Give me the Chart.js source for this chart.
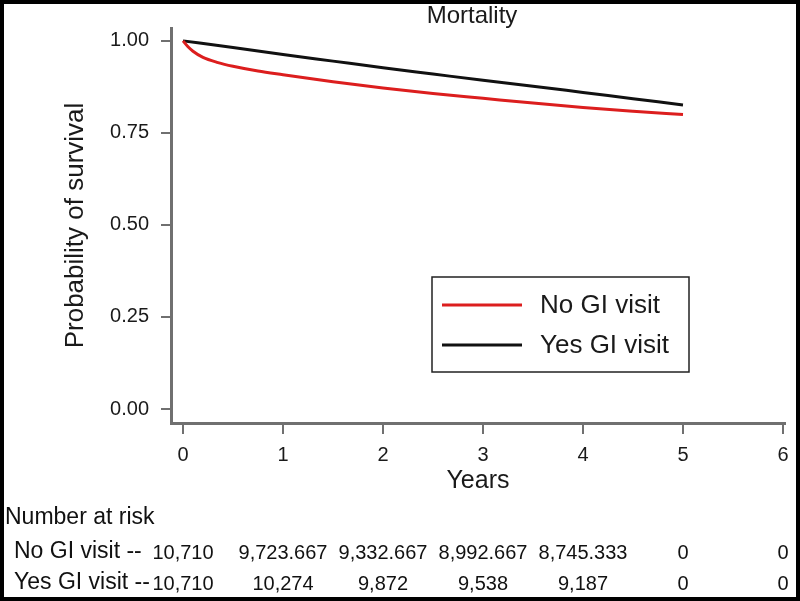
<!DOCTYPE html>
<html>
<head>
<meta charset="utf-8">
<script src="https://cdn.jsdelivr.net/npm/chart.js@4.4.1/dist/chart.umd.min.js"></script>
<style>
  html, body { margin: 0; padding: 0; background: #fff; }
  #wrap { width: 800px; height: 601px; position: relative; }
</style>
</head>
<body>
<div id="wrap"><canvas id="c" width="800" height="601"></canvas></div>
<script>
// ---- Data ----
const seriesLabels = ['No GI visit', 'Yes GI visit'];
const noGiYears = [0, 0.05, 0.1, 0.2, 0.35, 0.5, 0.75, 1, 1.5, 2, 2.5, 3, 3.5, 4, 4.5, 5];
const noGiSurv  = [1.0, 0.984, 0.972, 0.955, 0.941, 0.931, 0.918, 0.908, 0.889, 0.872, 0.857, 0.844, 0.831, 0.819, 0.809, 0.800];
const yesGiYears = [0, 0.5, 1, 1.5, 2, 2.5, 3, 3.5, 4, 4.5, 5];
const yesGiSurv  = [1.0, 0.982, 0.963, 0.945, 0.927, 0.910, 0.893, 0.877, 0.860, 0.843, 0.826];
const xTickValues = [0, 1, 2, 3, 4, 5, 6];
const yTickValues = [0, 0.25, 0.5, 0.75, 1];
const riskTitle = 'Number at risk';
const riskRowLabels = ['No GI visit --', 'Yes GI visit --'];
const riskNoGi  = ['10,710', '9,723.667', '9,332.667', '8,992.667', '8,745.333', '0', '0'];
const riskYesGi = ['10,710', '10,274', '9,872', '9,538', '9,187', '0', '0'];
const chartTitle = 'Mortality';
const xTitle = 'Years';
const yTitle = 'Probability of survival';

const FONT = "'Liberation Sans', Arial, Helvetica, sans-serif";
const AXIS_COLOR = '#707070';
const RED = '#dc1e1e';
const BLACK = '#111111';

const toPoints = (xs, ys) => xs.map((x, i) => ({ x: x, y: ys[i] }));

const extras = {
  id: 'extras',
  afterDraw(chart) {
    const ctx = chart.ctx;
    const xs = chart.scales.x;
    ctx.save();
    // outer frame
    ctx.strokeStyle = '#000';
    ctx.lineWidth = 4;
    ctx.strokeRect(2, 2, 796, 597);

    // title
    ctx.fillStyle = '#1a1a1a';
    ctx.font = '24px ' + FONT;
    ctx.textAlign = 'center';
    ctx.textBaseline = 'middle';
    ctx.fillText(chartTitle, 472, 16);

    // legend box
    const lx = 432, ly = 277, lw = 257, lh = 95;
    ctx.fillStyle = '#fff';
    ctx.fillRect(lx, ly, lw, lh);
    ctx.strokeStyle = '#222';
    ctx.lineWidth = 1.5;
    ctx.strokeRect(lx, ly, lw, lh);
    const rowsY = [305, 345];
    chart.data.datasets.forEach((ds, i) => {
      ctx.strokeStyle = ds.borderColor;
      ctx.lineWidth = 3;
      ctx.beginPath();
      ctx.moveTo(442, rowsY[i]);
      ctx.lineTo(522, rowsY[i]);
      ctx.stroke();
      ctx.fillStyle = '#1a1a1a';
      ctx.font = '26px ' + FONT;
      ctx.textAlign = 'left';
      ctx.textBaseline = 'middle';
      ctx.fillText(ds.label, 540, rowsY[i] + 1);
    });

    // number at risk table
    ctx.fillStyle = '#111';
    ctx.textBaseline = 'middle';
    ctx.textAlign = 'left';
    ctx.font = '23px ' + FONT;
    ctx.fillText(riskTitle, 5, 518);
    ctx.fillText(riskRowLabels[0], 14, 552);
    ctx.fillText(riskRowLabels[1], 14, 583);
    ctx.textAlign = 'center';
    ctx.font = '20px ' + FONT;
    xTickValues.forEach((v, i) => {
      const px = xs.getPixelForValue(v);
      ctx.fillText(riskNoGi[i], px, 553);
      ctx.fillText(riskYesGi[i], px, 584);
    });
    ctx.restore();
  }
};

new Chart(document.getElementById('c'), {
  type: 'line',
  data: {
    datasets: [
      { label: seriesLabels[0], data: toPoints(noGiYears, noGiSurv), borderColor: RED, backgroundColor: RED,
        borderWidth: 3, pointRadius: 0, cubicInterpolationMode: 'monotone', fill: false },
      { label: seriesLabels[1], data: toPoints(yesGiYears, yesGiSurv), borderColor: BLACK, backgroundColor: BLACK,
        borderWidth: 3, pointRadius: 0, cubicInterpolationMode: 'monotone', fill: false }
    ]
  },
  options: {
    responsive: false,
    animation: false,
    devicePixelRatio: 1,
    layout: { padding: { top: 28, left: 0, right: 15, bottom: 103 } },
    plugins: { legend: { display: false }, title: { display: false }, tooltip: { enabled: false } },
    scales: {
      x: {
        type: 'linear',
        min: -0.12,
        max: 6.02,
        afterBuildTicks: s => { s.ticks = xTickValues.map(v => ({ value: v })); },
        afterFit: s => { s.height = 75; },
        grid: { drawOnChartArea: false, drawTicks: true, tickLength: 11, color: AXIS_COLOR, lineWidth: 2 },
        border: { display: true, color: AXIS_COLOR, width: 3 },
        ticks: { font: { family: FONT, size: 20 }, color: '#1a1a1a', padding: 9, maxRotation: 0 },
        title: { display: true, text: xTitle, font: { family: FONT, size: 25 }, color: '#1a1a1a', padding: { top: 0, bottom: 2 } }
      },
      y: {
        type: 'linear',
        min: -0.038,
        max: 1.035,
        afterBuildTicks: s => { s.ticks = yTickValues.map(v => ({ value: v })); },
        afterFit: s => { s.width = 171; },
        grid: { drawOnChartArea: false, drawTicks: true, tickLength: 10, color: AXIS_COLOR, lineWidth: 2 },
        border: { display: true, color: AXIS_COLOR, width: 3 },
        ticks: { font: { family: FONT, size: 20 }, color: '#1a1a1a', padding: 12, callback: v => Number(v).toFixed(2) },
        title: { display: true, text: yTitle, font: { family: FONT, size: 26 }, color: '#1a1a1a', padding: { top: 60 } }
      }
    }
  },
  plugins: [extras]
});
</script>
</body>
</html>
